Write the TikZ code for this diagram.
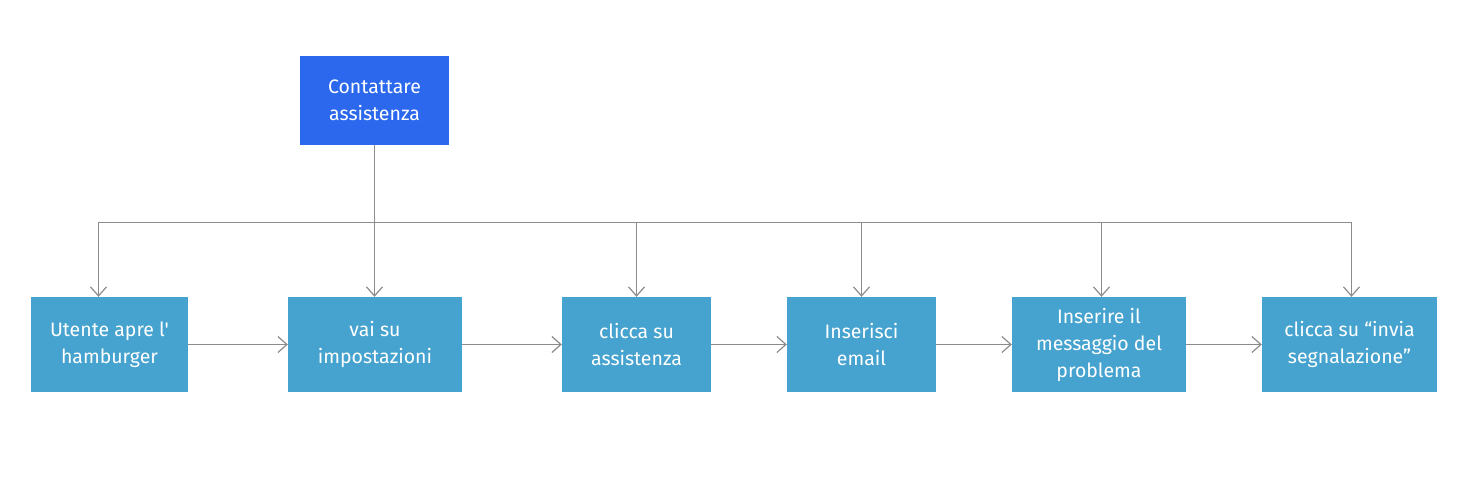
\documentclass[tikz,border=0pt]{standalone}
\usepackage{fontspec}
\newfontfamily\mainf{Fira Sans}
\usetikzlibrary{arrows.meta}
\definecolor{topblue}{HTML}{2B68EE}
\definecolor{boxblue}{HTML}{46A3CF}
\definecolor{linegray}{HTML}{8C8C8C}
\tikzset{
  topbox/.style={fill=topblue, draw=none, text=white, minimum width=149pt, minimum height=89pt, inner sep=0pt, align=center, font=\mainf\fontsize{19.5pt}{27pt}\selectfont},
  stepbox/.style={fill=boxblue, draw=none, text=white, minimum height=95pt, inner sep=0pt, align=center, font=\mainf\fontsize{19.5pt}{27pt}\selectfont},
  plainline/.style={draw=linegray, line width=1.2pt},
  conn/.style={plainline, -{Straight Barb[length=9pt,width=16pt,line width=1.2pt]}},
}
\begin{document}
\begin{tikzpicture}[x=1pt,y=-1pt]
\useasboundingbox (0,0) rectangle (1468,494);
\node[topbox] (top) at (374.5,100.5) {Contattare\\assistenza};
\node[stepbox, minimum width=157pt] (s1) at (109.5,344.5) {Utente apre l'\\hamburger};
\node[stepbox, minimum width=174pt] (s2) at (375,344.5) {vai su\\impostazioni};
\node[stepbox, minimum width=149pt] (s3) at (636.5,344.5) {clicca su\\assistenza};
\node[stepbox, minimum width=149pt] (s4) at (861.5,344.5) {Inserisci\\email};
\node[stepbox, minimum width=174pt] (s5) at (1099,344.5) {Inserire il\\messaggio del\\problema};
\node[stepbox, minimum width=175pt] (s6) at (1349.5,344.5) {clicca su “invia\\segnalazione”};
\coordinate (bus) at (374.5,222.5);
\coordinate (t1) at ([xshift=-11pt]s1.north);
\coordinate (t2) at ([xshift=-0.5pt]s2.north);
\coordinate (t5) at ([xshift=2.5pt]s5.north);
\coordinate (t6) at ([xshift=2pt]s6.north);
\draw[plainline] (top.south) -- (bus);
\draw[plainline] (t1 |- bus) -- (t6 |- bus);
\draw[conn] (t1 |- bus) -- (t1);
\draw[conn] (t2 |- bus) -- (t2);
\draw[conn] (s3.north |- bus) -- (s3.north);
\draw[conn] (s4.north |- bus) -- (s4.north);
\draw[conn] (t5 |- bus) -- (t5);
\draw[conn] (t6 |- bus) -- (t6);
\draw[conn] (s1) -- (s2);
\draw[conn] (s2) -- (s3);
\draw[conn] (s3) -- (s4);
\draw[conn] (s4) -- (s5);
\draw[conn] (s5) -- (s6);
\end{tikzpicture}
\end{document}
